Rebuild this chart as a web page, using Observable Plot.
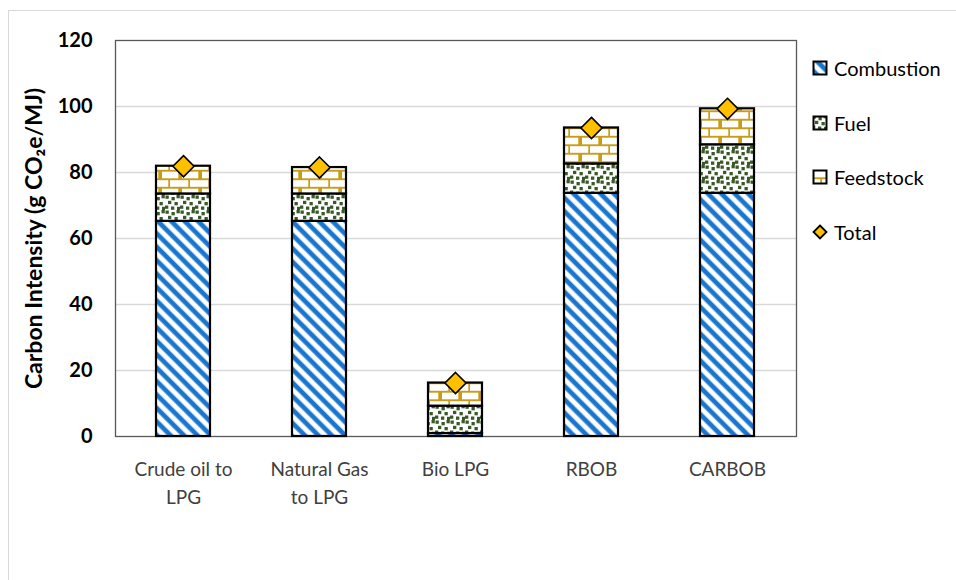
<!DOCTYPE html>
<html>
<head>
<meta charset="utf-8">
<script src="https://cdn.jsdelivr.net/npm/d3@7"></script>
<script src="https://cdn.jsdelivr.net/npm/@observablehq/plot@0.6"></script>
<style>
  body { margin: 0; background: #fff; font-family: Lato, "Open Sans", sans-serif; }
  #wrap { position: relative; width: 956px; height: 580px; overflow: hidden; }
  #outer { position: absolute; left: 8px; top: 10px; width: 960px; height: 600px; border: 1px solid #d9d9d9; box-sizing: border-box; }
  #legend { position: absolute; left: 812px; top: 0; }
  .row { position: absolute; left: 0; display: flex; align-items: center; font-size: 20px; color: #000; white-space: nowrap; }
  .row svg { margin-right: 6px; }
</style>
</head>
<body>
<svg width="0" height="0" style="position:absolute">
  <defs>
    <pattern id="pComb" patternUnits="userSpaceOnUse" width="9.5" height="9.5" patternTransform="rotate(-45)">
      <rect width="9.5" height="9.5" fill="#ffffff"/>
      <rect x="0" y="0" width="5.4" height="9.5" fill="#9cc7ee"/>
      <rect x="0.6" y="0" width="4.2" height="9.5" fill="#1a76cc"/>
    </pattern>
    <pattern id="pFuel" patternUnits="userSpaceOnUse" width="15" height="15">
      <rect width="15" height="15" fill="#ffffff"/>
      <g fill="#395a28">
        <rect x="0.5" y="0.5" width="3.3" height="3.3"/>
        <rect x="6.5" y="2" width="3.3" height="3.3"/>
        <rect x="11.5" y="0" width="3.3" height="3.3"/>
        <rect x="3" y="5.8" width="3.3" height="3.3"/>
        <rect x="9.5" y="7" width="3.3" height="3.3"/>
        <rect x="0" y="10.5" width="3.3" height="3.3"/>
        <rect x="6" y="11.5" width="3.3" height="3.3"/>
        <rect x="12" y="11.8" width="3" height="3.2"/>
      </g>
    </pattern>
    <pattern id="pFeed" patternUnits="userSpaceOnUse" width="20" height="17">
      <rect width="20" height="17" fill="#c99c18"/>
      <rect x="2" y="1.7" width="16.3" height="6.6" fill="#ffffff"/>
      <rect x="0" y="10.2" width="8.3" height="6.6" fill="#ffffff"/>
      <rect x="10" y="10.2" width="10" height="6.6" fill="#ffffff"/>
    </pattern>
  </defs>
</svg>
<div id="wrap">
  <div id="outer"></div>
  <div id="chart"></div>
  <div id="legend"></div>
</div>
<script>
const categories = ["Crude oil to\nLPG", "Natural Gas\nto LPG", "Bio LPG", "RBOB", "CARBOB"];
const seriesNames = ["Combustion", "Fuel", "Feedstock"];
const combustion = [65.2, 65.2, 0.9, 73.7, 73.7];
const fuel = [8.3, 8.3, 8.3, 8.9, 14.7];
const feedstock = [8.4, 8.0, 7.0, 10.9, 10.9];
const total = [81.9, 81.5, 16.2, 93.5, 99.3];
const yTicks = [0, 20, 40, 60, 80, 100, 120];
const patterns = ["url(#pComb)", "url(#pFuel)", "url(#pFeed)"];

const rows = [];
categories.forEach((c, i) => {
  rows.push({cat: c, series: "Combustion", value: combustion[i]});
  rows.push({cat: c, series: "Fuel", value: fuel[i]});
  rows.push({cat: c, series: "Feedstock", value: feedstock[i]});
});
const totals = categories.map((c, i) => ({cat: c, value: total[i]}));

const chart = Plot.plot({
  width: 956,
  height: 580,
  marginLeft: 115,
  marginRight: 160,
  marginTop: 40,
  marginBottom: 144,
  style: {fontFamily: "Lato, 'Open Sans', sans-serif", background: "transparent", overflow: "visible"},
  x: {domain: categories, paddingInner: 0.6, paddingOuter: 0.3},
  y: {domain: [0, 120]},
  color: {domain: seriesNames, range: patterns},
  marks: [
    Plot.gridY(yTicks.filter(t => t > 0 && t < 120), {stroke: "#d9d9d9", strokeOpacity: 1, strokeWidth: 1.3}),
    Plot.frame({stroke: "#595959", strokeWidth: 1.3}),
    Plot.barY(rows, {x: "cat", y: "value", fill: "series", stroke: "#000", strokeWidth: 2.2}),
    Plot.dot(totals, {x: "cat", y: "value", symbol: "diamond2", r: 9.5, fill: "#ffc000", stroke: "#000", strokeWidth: 1.6}),
    Plot.axisY(yTicks, {
      tickSize: 0, tickPadding: 23, fontSize: 20, fontWeight: "bold", fill: "#000",
      label: "Carbon Intensity (g CO₂e/MJ)", labelAnchor: "center", labelArrow: "none", labelOffset: 90
    }),
    Plot.axisX({tickSize: 0, tickPadding: 19, fontSize: 19, fill: "#404040", lineHeight: 1.5, label: null})
  ]
});
d3.select(chart).selectAll('[aria-label="y-axis label"] text, [aria-label="y-axis label"]').attr("font-size", 23);
document.getElementById("chart").appendChild(chart);

// legend
const legend = document.getElementById("legend");
const legendItems = [
  {name: "Combustion", fill: patterns[0], top: 68},
  {name: "Fuel", fill: patterns[1], top: 123},
  {name: "Feedstock", fill: patterns[2], top: 177},
  {name: "Total", fill: "diamond", top: 232}
];
legendItems.forEach(it => {
  const row = document.createElement("div");
  row.className = "row";
  row.style.top = (it.top - 12) + "px";
  row.style.height = "24px";
  const sw = it.fill === "diamond"
    ? `<svg width="16" height="16"><path d="M8,1.5 L14.5,8 L8,14.5 L1.5,8 Z" fill="#ffc000" stroke="#000" stroke-width="1.8"/></svg>`
    : `<svg width="16" height="16"><rect x="1.5" y="1.5" width="13" height="13" fill="${it.fill}" stroke="#000" stroke-width="2"/></svg>`;
  row.innerHTML = sw + `<span>${it.name}</span>`;
  legend.appendChild(row);
});
</script>
</body>
</html>
